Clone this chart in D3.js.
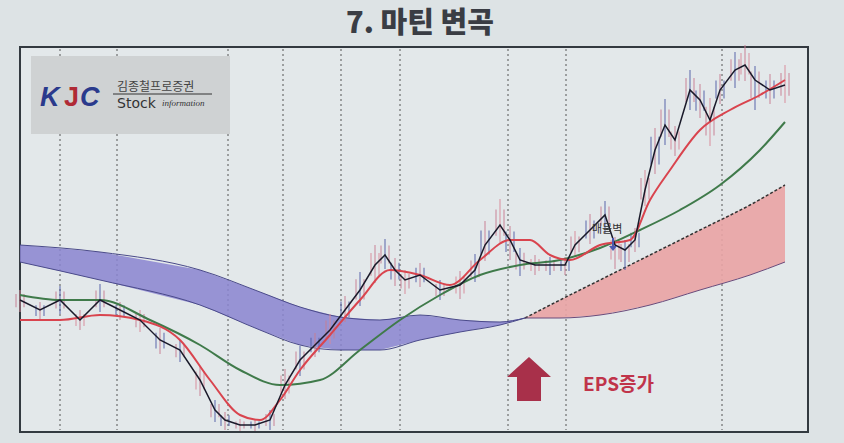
<!DOCTYPE html>
<html><head><meta charset="utf-8">
<script src="https://cdn.jsdelivr.net/npm/d3@7"></script>
<style>body{margin:0;background:#dde3e5;}svg{display:block}</style>
</head><body><svg id="c" width="844" height="443"></svg>
<script>
// x positions in chart units (0..800), values in price units (0..385)
const priceX = [20,40,60,80,100,120,140,160,180,200,215,225,240,255,270,285,300,315,330,345,360,375,385,395,405,420,440,460,475,485,500,510,520,535,550,565,575,590,605,615,625,635,645,655,665,675,690,700,710,720,735,745,755,770,785];
const priceY = [132,122,132,112,132,122,112,92,82,52,22,12,7,7,12,47,72,87,102,122,142,167,177,162,152,157,142,147,162,187,207,192,172,167,167,167,187,202,217,187,182,192,242,282,307,292,342,332,312,342,362,367,352,342,347];
const hiOff  = [10,8,14,10,16,8,10,12,10,14,10,8,6,6,10,16,14,12,16,14,18,20,16,12,10,12,10,14,16,24,26,14,12,10,8,8,14,16,14,8,10,12,20,22,26,14,20,16,22,16,18,20,14,16,20];
const loOff  = [12,10,14,10,12,10,12,14,12,16,12,10,6,6,10,14,16,12,14,12,16,18,14,16,14,12,10,14,12,16,18,20,16,10,10,10,12,14,18,24,20,12,16,24,20,16,20,18,26,14,18,16,30,14,18];
const redX = [20,60,100,140,180,210,240,260,280,300,330,360,390,420,450,480,510,530,550,570,600,630,650,670,700,730,760,785];
const redY = [112,112,117,112,92,52,17,12,32,62,97,132,162,157,147,172,192,192,177,172,187,192,232,262,302,322,337,352];
const greenX = [20,60,100,150,200,240,280,320,360,400,440,480,520,560,600,640,680,720,760,785];
const greenY = [137,132,132,112,87,62,47,52,82,112,137,157,167,172,184,202,222,247,282,310];
const purpleX = [20,100,200,260,300,340,380,420,460,500,525];
const purpleTop = [187,180,162,140,125,115,112,117,112,110,114];
const purpleBot = [170,152,127,102,87,82,82,92,100,107,114];
const pinkX = [525,560,600,650,700,750,785];
const pinkTop = [114,132,152,177,202,227,247];
const pinkBot = [114,114,117,127,142,157,170];
const gridX = [60,117,228,283,341,400,508,566,722];

const svg = d3.select("#c");
const x = d3.scaleLinear().domain([0,844]).range([0,844]);
const y = d3.scaleLinear().domain([0,385]).range([432,47]);

svg.append("rect").attr("width",844).attr("height",443).attr("fill","#dde3e5");
svg.append("text").attr("x",420).attr("y",33).attr("text-anchor","middle")
  .attr("font-family","Noto Sans CJK KR").attr("font-weight",900).attr("font-size",29)
  .attr("fill","#3a3d44").text("7. 마틴 변곡");
svg.append("rect").attr("x",20).attr("y",47).attr("width",788).attr("height",385)
  .attr("fill","#e3e8ea").attr("stroke","#333a40").attr("stroke-width",2);
gridX.forEach(g=>svg.append("line").attr("x1",x(g)).attr("x2",x(g)).attr("y1",49).attr("y2",430)
  .attr("stroke","#555").attr("stroke-width",1).attr("stroke-dasharray","2,3"));

const area = (xs,t,b)=>d3.area().x((d,i)=>x(xs[i])).y0((d,i)=>y(b[i])).y1((d,i)=>y(t[i]))(xs);
const line = (xs,ys)=>d3.line().x((d,i)=>x(xs[i])).y((d,i)=>y(ys[i])).curve(d3.curveMonotoneX)(xs);
svg.append("path").attr("d",area(purpleX,purpleTop,purpleBot)).attr("fill","#8a84d0").attr("opacity",0.85);
svg.append("path").attr("d",line(purpleX,purpleTop)).attr("fill","none").attr("stroke","#4a4a8a").attr("stroke-width",1);
svg.append("path").attr("d",line(purpleX,purpleBot)).attr("fill","none").attr("stroke","#4a4a8a").attr("stroke-width",1);
svg.append("path").attr("d",area(pinkX,pinkTop,pinkBot)).attr("fill","#e9a3a4").attr("opacity",0.9);
svg.append("path").attr("d",line(pinkX,pinkTop)).attr("fill","none").attr("stroke","#333").attr("stroke-width",1.5).attr("stroke-dasharray","3,2");
svg.append("path").attr("d",line(pinkX,pinkBot)).attr("fill","none").attr("stroke","#6a4a7a").attr("stroke-width",1);

// candle wicks
priceX.forEach((px,i)=>{
  const c = i%3===0 ? "#d98a9a" : "#5560a8";
  [-4,0,4].forEach((dx,k)=>{
    svg.append("line").attr("x1",x(px+dx)).attr("x2",x(px+dx))
      .attr("y1",y(priceY[i]+hiOff[i]*(k===1?1:0.6))).attr("y2",y(priceY[i]-loOff[i]*(k===1?1:0.6)))
      .attr("stroke",(i+k)%2?c:"#c87f93").attr("stroke-width",1.2).attr("opacity",0.8);
  });
});
svg.append("path").attr("d",line(greenX,greenY)).attr("fill","none").attr("stroke","#3f7a4a").attr("stroke-width",2);
svg.append("path").attr("d",line(redX,redY)).attr("fill","none").attr("stroke","#d9444e").attr("stroke-width",2);
svg.append("path").attr("d",d3.line().x((d,i)=>x(priceX[i])).y((d,i)=>y(priceY[i]))(priceX)).attr("fill","none").attr("stroke","#1a1a2a").attr("stroke-width",1.5);

svg.append("text").attr("x",592).attr("y",233).attr("font-family","Noto Sans CJK KR").attr("font-size",11).attr("fill","#333").text("매물벽");
svg.append("path").attr("d","M612,238 l0,8 l-3,0 l4,5 l4,-5 l-3,0 l0,-8z").attr("fill","#4a58b0");

// EPS arrow
svg.append("path").attr("d","M529,357 L551,377 L541,377 L541,401 L517,401 L517,377 L507,377 Z").attr("fill","#a8304a");
svg.append("text").attr("x",583).attr("y",391).attr("font-family","Noto Sans CJK KR").attr("font-weight",700).attr("font-size",19).attr("fill","#c0344a").text("EPS증가");

// logo
svg.append("rect").attr("x",31).attr("y",56).attr("width",199).attr("height",78).attr("fill","#cfd2d3");
svg.append("text").attr("x",40).attr("y",106).attr("font-family","Liberation Sans").attr("font-style","italic").attr("font-weight",700).attr("font-size",27).attr("fill","#2a3a8c").text("K");
svg.append("text").attr("x",64).attr("y",106).attr("font-family","Liberation Sans").attr("font-weight",700).attr("font-size",27).attr("fill","#b02a35").text("J");
svg.append("text").attr("x",80).attr("y",106).attr("font-family","Liberation Sans").attr("font-style","italic").attr("font-weight",700).attr("font-size",27).attr("fill","#2a3a8c").text("C");
svg.append("text").attr("x",117).attr("y",91).attr("font-family","Noto Sans CJK KR").attr("font-size",12).attr("fill","#444").text("김종철프로증권");
svg.append("line").attr("x1",113).attr("x2",212).attr("y1",94).attr("y2",94).attr("stroke","#333");
svg.append("text").attr("x",117).attr("y",108).attr("font-family","DejaVu Sans").attr("font-size",14).attr("fill","#333").text("Stock");
svg.append("text").attr("x",162).attr("y",106).attr("font-family","Liberation Serif").attr("font-style","italic").attr("font-size",9).attr("fill","#333").text("information");
</script></body></html>
